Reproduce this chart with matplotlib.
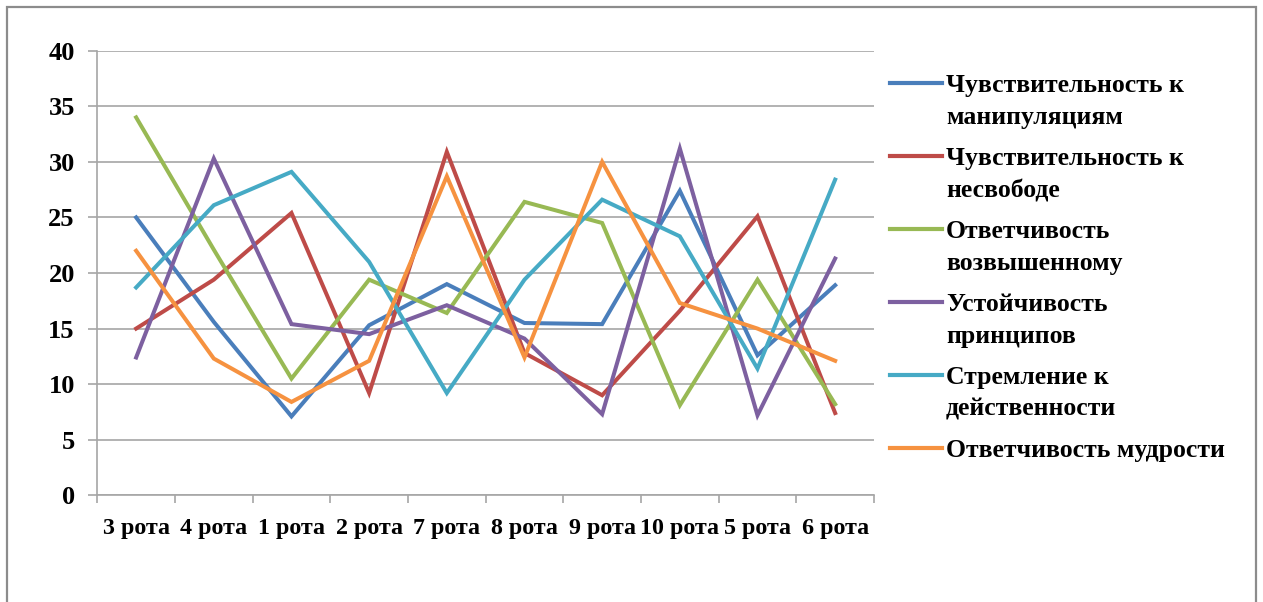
import matplotlib
matplotlib.use("Agg")
import matplotlib.pyplot as plt
from matplotlib.patches import Rectangle
from matplotlib.lines import Line2D

categories = ["3 рота", "4 рота", "1 рота", "2 рота", "7 рота",
              "8 рота", "9 рота", "10 рота", "5 рота", "6 рота"]

manipulation = [25.0, 15.6, 7.1, 15.3, 19.0, 15.5, 15.4, 27.4, 12.6, 18.9]
unfreedom    = [15.0, 19.4, 25.4, 9.2, 30.9, 12.8, 9.0, 16.6, 25.1, 7.4]
sublime      = [34.0, 22.1, 10.5, 19.4, 16.4, 26.4, 24.5, 8.1, 19.4, 8.2]
principles   = [12.4, 30.3, 15.4, 14.5, 17.1, 14.1, 7.3, 31.2, 7.2, 21.3]
efficiency   = [18.7, 26.1, 29.1, 21.0, 9.2, 19.4, 26.6, 23.3, 11.4, 28.4]
wisdom       = [22.0, 12.3, 8.4, 12.1, 28.7, 12.4, 30.0, 17.3, 15.0, 12.1]

series_labels = ["Чувствительность к\nманипуляциям",
                 "Чувствительность к\nнесвободе",
                 "Ответчивость\nвозвышенному",
                 "Устойчивость\nпринципов",
                 "Стремление к\nдейственности",
                 "Ответчивость мудрости"]
series_values = [manipulation, unfreedom, sublime, principles, efficiency, wisdom]
series_colors = ["#4A7EBB", "#BE4B48", "#98B954", "#7D60A0", "#46AAC5", "#F69240"]

y_ticks = [0, 5, 10, 15, 20, 25, 30, 35, 40]

plt.rcParams["font.family"] = ["Liberation Serif", "DejaVu Serif"]
plt.rcParams["font.weight"] = "bold"

W, H = 1263, 602
fig = plt.figure(figsize=(W / 100, H / 100), dpi=100)
fig.patch.set_facecolor("white")

# outer chart frame
fig.add_artist(Rectangle((7 / W, -0.01), (1255.5 - 7) / W, 1.01 - 7 / H,
                         transform=fig.transFigure, fill=False,
                         edgecolor="#8C8C8C", linewidth=1.6))

ax = fig.add_axes([97.3 / W, 1 - 495.3 / H, (874 - 97.3) / W, (495.3 - 50.7) / H])

x = list(range(len(categories)))
for vals, col in zip(series_values, series_colors):
    ax.plot(x, vals, color=col, linewidth=2.9, solid_joinstyle="miter")

ax.set_xlim(-0.5, len(categories) - 0.5)
ax.set_ylim(0, 40)
ax.set_yticks(y_ticks)
ax.set_yticklabels([str(v) for v in y_ticks], fontsize=19, fontweight="bold")
ax.yaxis.grid(True, color="#A6A6A6", linewidth=1.2)
ax.set_axisbelow(True)

# category labels centred, tick marks on category boundaries
ax.set_xticks([i - 0.5 for i in range(len(categories) + 1)])
ax.set_xticklabels([])
ax.set_xticks(x, minor=True)
ax.set_xticklabels(categories, minor=True, fontsize=17.3, fontweight="bold")
ax.tick_params(axis="x", which="minor", length=0, pad=16)
ax.tick_params(axis="x", which="major", length=5.5, width=1.2, color="#A6A6A6")
ax.tick_params(axis="y", length=6.2, width=1.2, color="#A6A6A6", pad=10)

for side in ("top", "right"):
    ax.spines[side].set_visible(False)
for side in ("left", "bottom"):
    ax.spines[side].set_color("#A6A6A6")
    ax.spines[side].set_linewidth(1.2)

# legend: swatch aligned with the first line of each label
entry_top = 83
entry_step = 73
line_gap = 32
for i, (lab, col) in enumerate(zip(series_labels, series_colors)):
    yc = entry_top + i * entry_step
    fig.add_artist(Line2D([890 / W, 942 / W], [1 - yc / H, 1 - yc / H],
                          transform=fig.transFigure, color=col, linewidth=3.0))
    for j, part in enumerate(lab.split("\n")):
        fig.text(946 / W, 1 - (yc + j * line_gap) / H, part, fontsize=18.5,
                 fontweight="bold", ha="left", va="center_baseline")

fig.savefig("out.png", dpi=100, facecolor="white")
